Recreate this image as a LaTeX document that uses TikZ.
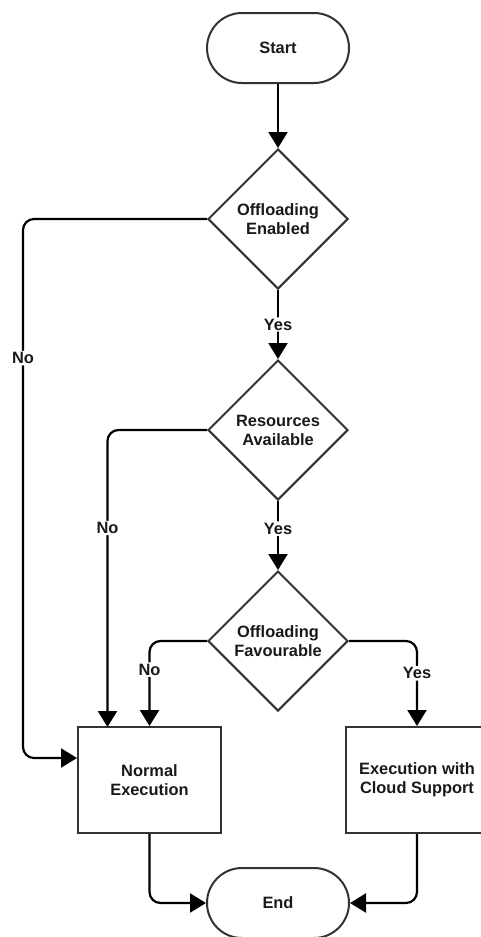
\documentclass[tikz,border=0pt]{standalone}
\usepackage{fontspec}
\setmainfont{Liberation Sans}
\usetikzlibrary{shapes.geometric,arrows.meta}
\begin{document}
\begin{tikzpicture}[x=1pt,y=-1pt,
  every node/.style={font=\fontsize{16.4}{19}\selectfont\bfseries, text=black!90, align=center},
  term/.style={draw=black!80, line width=2pt, rectangle, rounded corners=35pt, minimum width=142pt, minimum height=70pt, inner sep=0pt},
  dia/.style={draw=black!80, line width=2pt, diamond, minimum width=140pt, minimum height=140pt, inner sep=0pt},
  procbox/.style={draw=black!80, line width=2pt, rectangle, minimum width=143pt, minimum height=106pt, inner sep=0pt},
  arr/.style={draw=black, line width=2.2pt, rounded corners=11pt, -{Triangle[length=16pt,width=19pt]}},
  lbl/.style={fill=white, inner sep=1.5pt}
]
\useasboundingbox (0,0) rectangle (481,937);

\node[term] (start) at (278,48) {Start};
\node[dia] (d1) at (278,219) {Offloading\\Enabled};
\node[dia] (d2) at (278,430) {Resources\\Available};
\node[dia] (d3) at (278,641) {Offloading\\Favourable};
\node[procbox] (ne) at (149.5,780) {Normal\\Execution};
\node[procbox] (cs) at (417,780) {Execution with\\Cloud Support};
\node[term] (end) at (278,903) {End};

\coordinate (k1) at (23,758);
\coordinate (k2) at (107.5,727);

\draw[arr] (start) -- (d1);
\draw[arr] (d1) -- node[lbl]{Yes} (d2);
\draw[arr] (d2) -- node[lbl,pos=0.4]{Yes} (d3);
\draw[arr] (d1.west) -| node[lbl,pos=0.629]{No} (k1) -- (k1 -| ne.west);
\draw[arr] (d2.west) -| node[lbl,pos=0.665]{No} (k2);
\draw[arr] (d3.west) -| node[lbl,pos=0.668]{No} (ne.north);
\draw[arr] (d3.east) -| node[lbl,pos=0.69]{Yes} (cs.north);
\draw[arr] (ne.south) |- (end.west);
\draw[arr] (cs.south) |- (end.east);
\end{tikzpicture}
\end{document}
